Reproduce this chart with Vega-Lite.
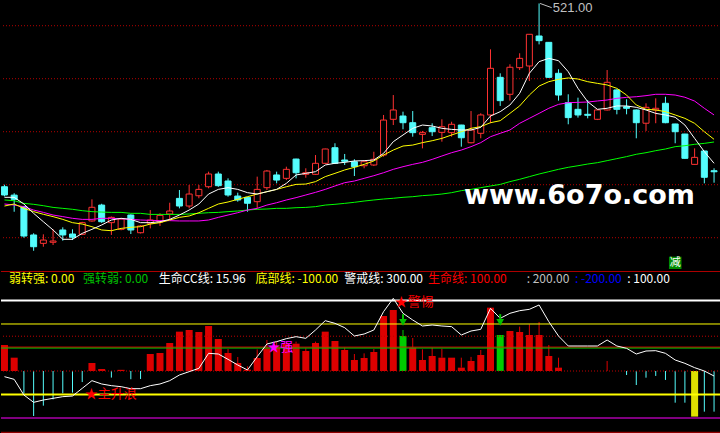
{
"$schema": "https://vega.github.io/schema/vega-lite/v6.json",
"background": "#000000",
"padding": 0,
"spacing": 0,
"bounds": "flush",
"config": {"view": {"stroke": null}, "axis": {"disable": true}, "concat": {"spacing": 0}},
"datasets": {
"k": [
{"t":0,"o":348.1,"h":350,"l":339,"c":340.3},
{"t":1,"o":340.2,"h":342,"l":324.5,"c":336.2},
{"t":2,"o":329.3,"h":330,"l":300,"c":301.6},
{"t":3,"o":302.6,"h":304.2,"l":287.7,"c":291.5},
{"t":4,"o":294.7,"h":303.2,"l":291.5,"c":297.8},
{"t":5,"o":295.7,"h":307.9,"l":293.1,"c":296.9},
{"t":6,"o":307.3,"h":309.8,"l":297.2,"c":302.6},
{"t":7,"o":303.5,"h":307.9,"l":297.8,"c":300.4},
{"t":8,"o":303.2,"h":315,"l":302.5,"c":314.2},
{"t":9,"o":315.8,"h":336.2,"l":315.1,"c":328.7},
{"t":10,"o":330.8,"h":332,"l":314,"c":315.1},
{"t":11,"o":314.2,"h":320,"l":302.6,"c":319.2},
{"t":12,"o":307.9,"h":318.5,"l":307,"c":317.6},
{"t":13,"o":321.4,"h":322,"l":303.5,"c":307.3},
{"t":14,"o":304.7,"h":312,"l":304,"c":311.1},
{"t":15,"o":313.6,"h":326.1,"l":308.8,"c":316.7},
{"t":16,"o":314.8,"h":323,"l":311.1,"c":321.1},
{"t":17,"o":322.4,"h":333,"l":316.7,"c":325.2},
{"t":18,"o":337.1,"h":345,"l":327.7,"c":329.9},
{"t":19,"o":329.9,"h":349.7,"l":327.7,"c":341.2},
{"t":20,"o":339.6,"h":349.7,"l":337.2,"c":345.6},
{"t":21,"o":348.1,"h":362.3,"l":346.6,"c":360.1},
{"t":22,"o":360.1,"h":362.3,"l":348,"c":349.1},
{"t":23,"o":353.5,"h":356,"l":338.7,"c":340.3},
{"t":24,"o":339.3,"h":342.5,"l":334,"c":335.6},
{"t":25,"o":338.1,"h":338.5,"l":324.5,"c":332.5},
{"t":26,"o":334,"h":357.6,"l":327.7,"c":345.6},
{"t":27,"o":347.2,"h":363.9,"l":345,"c":362.9},
{"t":28,"o":359.2,"h":362.3,"l":351.3,"c":354.4},
{"t":29,"o":356,"h":367,"l":354.4,"c":364.5},
{"t":30,"o":374.2,"h":374.5,"l":356,"c":361.3},
{"t":31,"o":359.8,"h":365.5,"l":356.6,"c":361.3},
{"t":32,"o":359.8,"h":378,"l":359.2,"c":370.2},
{"t":33,"o":370.2,"h":384,"l":369.5,"c":383.7},
{"t":34,"o":384.9,"h":389.1,"l":369.5,"c":370.2},
{"t":35,"o":373.3,"h":379,"l":368.6,"c":372.1},
{"t":36,"o":371.7,"h":374,"l":358.2,"c":367},
{"t":37,"o":367.9,"h":372.5,"l":365.5,"c":371.7},
{"t":38,"o":368.6,"h":381.1,"l":367.6,"c":374},
{"t":39,"o":378,"h":415.8,"l":376.4,"c":411},
{"t":40,"o":411.7,"h":434.6,"l":406.3,"c":420.5},
{"t":41,"o":414.8,"h":418.9,"l":402.3,"c":408.5},
{"t":42,"o":408.5,"h":419.5,"l":395.3,"c":399.1},
{"t":43,"o":397.5,"h":400.7,"l":384.3,"c":399.1},
{"t":44,"o":403.8,"h":407.9,"l":395.9,"c":400},
{"t":45,"o":399.4,"h":411.7,"l":390.6,"c":404.7},
{"t":46,"o":399.1,"h":409.4,"l":395.3,"c":407},
{"t":47,"o":406.3,"h":406.5,"l":385.9,"c":394.3},
{"t":48,"o":389.6,"h":419.5,"l":389,"c":401.6},
{"t":49,"o":398.5,"h":417.4,"l":393.8,"c":415.8},
{"t":50,"o":415.8,"h":477.7,"l":408,"c":459.8},
{"t":51,"o":451.3,"h":455.1,"l":424.3,"c":429.3},
{"t":52,"o":435.3,"h":463.6,"l":429.3,"c":460.8},
{"t":53,"o":460.4,"h":474,"l":458.2,"c":469.2},
{"t":54,"o":462,"h":491.9,"l":447.8,"c":491.9},
{"t":55,"o":490.3,"h":521,"l":482.4,"c":485.9},
{"t":56,"o":484.3,"h":484.5,"l":451,"c":451.3},
{"t":57,"o":455.1,"h":458.9,"l":429.3,"c":434.6},
{"t":58,"o":427.4,"h":435.3,"l":407,"c":413.3},
{"t":59,"o":421.1,"h":432.1,"l":413.3,"c":415.8},
{"t":60,"o":416.4,"h":429.9,"l":412.6,"c":415.5},
{"t":61,"o":411.7,"h":421,"l":411,"c":420.5},
{"t":62,"o":420.5,"h":458.2,"l":420,"c":446.6},
{"t":63,"o":439.4,"h":440,"l":416.4,"c":421.1},
{"t":64,"o":423.6,"h":430.6,"l":416.4,"c":422.1},
{"t":65,"o":420.5,"h":421,"l":393.8,"c":408.5},
{"t":66,"o":408,"h":426.8,"l":400.7,"c":423},
{"t":67,"o":420.5,"h":431.5,"l":408,"c":422.1},
{"t":68,"o":426.8,"h":433,"l":408,"c":408.5},
{"t":69,"o":407.3,"h":407.5,"l":389.1,"c":400},
{"t":70,"o":397.8,"h":398,"l":374.5,"c":374.9},
{"t":71,"o":369.2,"h":384.3,"l":369,"c":375.8},
{"t":72,"o":381.8,"h":382,"l":351.3,"c":357},
{"t":73,"o":363.2,"h":365.5,"l":351.9,"c":362.2}
],
"ma": [
{"t":0,"m5":338.1,"m10":329.9,"m20":331.8,"m60":335.6},
{"t":1,"m5":338.1,"m10":331.8,"m20":330.8,"m60":334.9},
{"t":2,"m5":331.8,"m10":327.7,"m20":329.3,"m60":332.4},
{"t":3,"m5":323.0,"m10":324.6,"m20":326.1,"m60":331.5},
{"t":4,"m5":315.1,"m10":322.1,"m20":323.9,"m60":330.2},
{"t":5,"m5":307.3,"m10":319.9,"m20":321.4,"m60":328.6},
{"t":6,"m5":298.5,"m10":317.3,"m20":319.9,"m60":327.7},
{"t":7,"m5":298.5,"m10":314.2,"m20":318.3,"m60":326.8},
{"t":8,"m5":304.1,"m10":312.9,"m20":317.3,"m60":325.5},
{"t":9,"m5":307.9,"m10":310.4,"m20":317.3,"m60":324.6},
{"t":10,"m5":312.0,"m10":307.3,"m20":318.3,"m60":324.2},
{"t":11,"m5":316.7,"m10":306.6,"m20":318.3,"m60":323.9},
{"t":12,"m5":318.3,"m10":308.8,"m20":317.9,"m60":323.9},
{"t":13,"m5":317.3,"m10":309.8,"m20":317.3,"m60":323.0},
{"t":14,"m5":314.2,"m10":310.4,"m20":316.7,"m60":323.0},
{"t":15,"m5":314.2,"m10":312.9,"m20":316.4,"m60":322.0},
{"t":16,"m5":315.1,"m10":314.2,"m20":316.1,"m60":322.0},
{"t":17,"m5":317.3,"m10":316.7,"m20":316.1,"m60":322.0},
{"t":18,"m5":321.4,"m10":319.2,"m20":315.8,"m60":322.0},
{"t":19,"m5":326.1,"m10":320.5,"m20":315.8,"m60":322.4},
{"t":20,"m5":331.8,"m10":323.6,"m20":315.8,"m60":323.0},
{"t":21,"m5":341.2,"m10":327.7,"m20":316.7,"m60":323.6},
{"t":22,"m5":345.6,"m10":331.8,"m20":319.2,"m60":323.9},
{"t":23,"m5":347.2,"m10":333.7,"m20":321.4,"m60":324.6},
{"t":24,"m5":345.6,"m10":336.2,"m20":323.6,"m60":325.2},
{"t":25,"m5":342.5,"m10":338.7,"m20":326.1,"m60":326.1},
{"t":26,"m5":341.2,"m10":341.2,"m20":327.7,"m60":326.8},
{"t":27,"m5":343.4,"m10":343.4,"m20":330.8,"m60":327.1},
{"t":28,"m5":345.6,"m10":345.6,"m20":333.0,"m60":327.7},
{"t":29,"m5":351.3,"m10":348.1,"m20":335.6,"m60":327.7},
{"t":30,"m5":359.2,"m10":350.3,"m20":337.8,"m60":328.3},
{"t":31,"m5":360.7,"m10":350.6,"m20":340.3,"m60":328.6},
{"t":32,"m5":362.3,"m10":352.9,"m20":342.8,"m60":329.3},
{"t":33,"m5":368.6,"m10":357.6,"m20":345.6,"m60":330.8},
{"t":34,"m5":370.2,"m10":360.7,"m20":348.8,"m60":331.5},
{"t":35,"m5":371.1,"m10":363.9,"m20":351.9,"m60":332.4},
{"t":36,"m5":372.4,"m10":366.4,"m20":353.5,"m60":333.4},
{"t":37,"m5":372.7,"m10":369.2,"m20":356.0,"m60":334.6},
{"t":38,"m5":373.3,"m10":372.4,"m20":358.5,"m60":335.6},
{"t":39,"m5":379.6,"m10":378.0,"m20":361.3,"m60":336.5},
{"t":40,"m5":390.6,"m10":382.7,"m20":364.5,"m60":337.2},
{"t":41,"m5":396.9,"m10":386.5,"m20":367.0,"m60":338.1},
{"t":42,"m5":403.2,"m10":387.4,"m20":369.2,"m60":338.7},
{"t":43,"m5":406.3,"m10":389.7,"m20":371.1,"m60":339.7},
{"t":44,"m5":405.4,"m10":391.5,"m20":373.9,"m60":340.3},
{"t":45,"m5":403.2,"m10":393.7,"m20":377.1,"m60":341.2},
{"t":46,"m5":402.2,"m10":396.9,"m20":380.2,"m60":342.5},
{"t":47,"m5":401.6,"m10":400.0,"m20":382.7,"m60":344.4},
{"t":48,"m5":401.6,"m10":403.2,"m20":385.9,"m60":345.6},
{"t":49,"m5":404.1,"m10":404.8,"m20":389.7,"m60":347.2},
{"t":50,"m5":414.8,"m10":408.5,"m20":395.3,"m60":348.8},
{"t":51,"m5":418.9,"m10":410.4,"m20":398.5,"m60":350.3},
{"t":52,"m5":425.2,"m10":417.3,"m20":401.6,"m60":352.9},
{"t":53,"m5":436.2,"m10":424.3,"m20":407.9,"m60":355.1},
{"t":54,"m5":455.1,"m10":434.6,"m20":412.6,"m60":357.6},
{"t":55,"m5":466.1,"m10":443.1,"m20":417.3,"m60":360.1},
{"t":56,"m5":469.2,"m10":447.2,"m20":422.1,"m60":362.3},
{"t":57,"m5":467.0,"m10":449.4,"m20":425.8,"m60":364.5},
{"t":58,"m5":456.6,"m10":450.7,"m20":427.4,"m60":366.4},
{"t":59,"m5":440.9,"m10":449.7,"m20":427.7,"m60":367.9},
{"t":60,"m5":428.3,"m10":447.2,"m20":428.0,"m60":369.5},
{"t":61,"m5":421.1,"m10":445.6,"m20":429.0,"m60":370.8},
{"t":62,"m5":422.1,"m10":444.1,"m20":429.9,"m60":372.7},
{"t":63,"m5":424.3,"m10":440.9,"m20":431.5,"m60":374.6},
{"t":64,"m5":424.3,"m10":434.6,"m20":432.4,"m60":376.5},
{"t":65,"m5":423.0,"m10":425.2,"m20":433.0,"m60":378.7},
{"t":66,"m5":420.5,"m10":421.1,"m20":434.0,"m60":380.2},
{"t":67,"m5":417.3,"m10":420.5,"m20":435.3,"m60":382.1},
{"t":68,"m5":415.8,"m10":418.9,"m20":435.3,"m60":383.7},
{"t":69,"m5":413.6,"m10":415.8,"m20":434.6,"m60":385.9},
{"t":70,"m5":406.3,"m10":412.6,"m20":432.5,"m60":386.8},
{"t":71,"m5":393.7,"m10":407.9,"m20":428.9,"m60":388.1},
{"t":72,"m5":381.2,"m10":400.0,"m20":422.1,"m60":389.0},
{"t":73,"m5":370.2,"m10":392.8,"m20":415.8,"m60":390.3}
],
"cc": [
{"t":0,"b":110.6,"k":"up","cci":-24.1},
{"t":1,"b":56.7,"k":"up","cci":-35.5},
{"t":2,"b":-95,"k":"down","cci":-102.1},
{"t":3,"b":-191.5,"k":"down","cci":-133.3},
{"t":4,"b":-147.5,"k":"down","cci":-123.4},
{"t":5,"b":-120.6,"k":"down","cci":-116.3},
{"t":6,"b":-95,"k":"down","cci":-109.2},
{"t":7,"b":-92,"k":"down","cci":-106.4},
{"t":8,"b":-47,"k":"down","cci":-73.8},
{"t":9,"b":34,"k":"up","cci":-41.1},
{"t":10,"b":8.5,"k":"up","cci":-55.3},
{"t":11,"b":-28,"k":"down","cci":-62.4},
{"t":12,"b":5,"k":"up","cci":-66.7},
{"t":13,"b":-35,"k":"down","cci":-75.2},
{"t":14,"b":-34,"k":"down","cci":-75.2},
{"t":15,"b":72.3,"k":"up","cci":-62.4},
{"t":16,"b":76.6,"k":"up","cci":-55.3},
{"t":17,"b":119.1,"k":"up","cci":-41.1},
{"t":18,"b":167.4,"k":"up","cci":-17},
{"t":19,"b":174.5,"k":"up","cci":-2.8},
{"t":20,"b":166,"k":"up","cci":11.3},
{"t":21,"b":191.5,"k":"up","cci":75.2},
{"t":22,"b":136.2,"k":"up","cci":72.3},
{"t":23,"b":76.6,"w":93.6,"k":"up","cci":49.6},
{"t":24,"b":34,"w":59.6,"k":"up","cci":25.5},
{"t":25,"b":6,"w":20,"k":"up","cci":4.3},
{"t":26,"b":55.3,"w":92,"k":"up","cci":61},
{"t":27,"b":96.5,"w":132,"k":"up","cci":114.9},
{"t":28,"b":100.7,"w":125,"k":"up","cci":124.8},
{"t":29,"b":115,"w":125,"k":"up","cci":137.6},
{"t":30,"b":116.3,"w":125,"k":"up","cci":146.1},
{"t":31,"b":85.1,"w":96.5,"k":"up","cci":139},
{"t":32,"b":119.1,"w":125,"k":"up","cci":174.5},
{"t":33,"b":167.4,"k":"up","cci":214.2},
{"t":34,"b":127.7,"k":"up","cci":202.8},
{"t":35,"b":89.4,"w":99.3,"k":"up","cci":184.4},
{"t":36,"b":46.8,"w":72.3,"k":"up","cci":148.9},
{"t":37,"b":55.3,"w":75,"k":"up","cci":157.4},
{"t":38,"b":80.9,"w":93.6,"k":"up","cci":174.5},
{"t":39,"b":234,"k":"up","cci":252.5},
{"t":40,"b":259.6,"k":"up","cci":309.2},
{"t":41,"b":148.9,"w":174.5,"k":"turn","cci":245.4},
{"t":42,"b":99.3,"w":140.4,"k":"up","cci":217},
{"t":43,"b":46.8,"w":92.2,"k":"up","cci":191.5},
{"t":44,"b":63.8,"w":99.3,"k":"up","cci":195.7},
{"t":45,"b":56.7,"w":95,"k":"up","cci":191.5},
{"t":46,"b":56.7,"k":"up","cci":188.7},
{"t":47,"b":14.2,"w":56.7,"k":"up","cci":153.2},
{"t":48,"b":42.6,"w":60,"k":"up","cci":170.2},
{"t":49,"b":68.1,"w":89.4,"k":"up","cci":177.3},
{"t":50,"b":269.5,"k":"up","cci":266.7},
{"t":51,"b":153.2,"k":"turn","cci":224.1},
{"t":52,"b":170.2,"k":"up","cci":245.4},
{"t":53,"b":166,"w":188.7,"k":"up","cci":256.7},
{"t":54,"b":153.2,"w":198.6,"k":"up","cci":262.4},
{"t":55,"b":153.2,"w":208.5,"k":"up","cci":280.9},
{"t":56,"b":63.8,"w":110.6,"k":"up","cci":209.9},
{"t":57,"b":14.2,"w":56.7,"k":"up","cci":148.9},
{"t":58,"b":0,"k":"flat","cci":106.4},
{"t":59,"b":0,"k":"flat","cci":106.4},
{"t":60,"b":0,"k":"flat","cci":106.4},
{"t":61,"b":0,"k":"flat","cci":106.4},
{"t":62,"b":0,"w":42.6,"k":"flat","cci":131.9},
{"t":63,"b":0,"k":"flat","cci":106.4},
{"t":64,"b":-17,"k":"down","cci":96.5},
{"t":65,"b":-59.6,"k":"down","cci":72.3},
{"t":66,"b":-28.4,"k":"down","cci":85.1},
{"t":67,"b":-21,"k":"down","cci":86.5},
{"t":68,"b":-38,"k":"down","cci":75.2},
{"t":69,"b":-134.8,"k":"down","cci":46.8},
{"t":70,"b":-134.8,"k":"down","cci":32.6},
{"t":71,"b":-194,"k":"bottom","cci":14.2},
{"t":72,"b":-173,"k":"down","cci":0},
{"t":73,"b":-173,"k":"down","cci":-21.3}
]
},
"vconcat": [
{
"width": 720,
"height": 271,
"layer": [
{"data": {"values": [{"g":300},{"g":350},{"g":400},{"g":450},{"g":500}]},
 "mark": {"type": "rule", "color": "#b40000", "strokeDash": [1,2], "strokeWidth": 1},
 "encoding": {"y": {"field": "g", "type": "quantitative", "scale": {"domain": [268.6, 524.25], "nice": false, "zero": false}}}},
{"data": {"name": "k"},
 "mark": {"type": "rule", "strokeWidth": 1, "clip": true},
 "encoding": {
  "x": {"field": "t", "type": "quantitative", "scale": {"domain": [0.158, 73.2], "nice": false, "zero": false}},
  "y": {"field": "l", "type": "quantitative", "scale": {"domain": [268.6, 524.25], "nice": false, "zero": false}},
  "y2": {"field": "h"},
  "color": {"condition": {"test": "datum.c >= datum.o", "value": "#ff3232"}, "value": "#54fcfc"}}},
{"data": {"name": "k"},
 "mark": {"type": "bar", "width": 6, "strokeWidth": 1, "clip": true},
 "encoding": {
  "x": {"field": "t", "type": "quantitative", "scale": {"domain": [0.158, 73.2], "nice": false, "zero": false}},
  "y": {"field": "o", "type": "quantitative", "scale": {"domain": [268.6, 524.25], "nice": false, "zero": false}},
  "y2": {"field": "c"},
  "fill": {"condition": {"test": "datum.c >= datum.o", "value": "#000000"}, "value": "#54fcfc"},
  "stroke": {"condition": {"test": "datum.c >= datum.o", "value": "#ff3232"}, "value": "#54fcfc"}}},
{"data": {"name": "ma"},
 "mark": {"type": "line", "color": "#00ff00", "strokeWidth": 1, "clip": true},
 "encoding": {"x": {"field": "t", "type": "quantitative"}, "y": {"field": "m60", "type": "quantitative"}}},
{"data": {"name": "ma"},
 "mark": {"type": "line", "color": "#ff00ff", "strokeWidth": 1, "clip": true},
 "encoding": {"x": {"field": "t", "type": "quantitative"}, "y": {"field": "m20", "type": "quantitative"}}},
{"data": {"name": "ma"},
 "mark": {"type": "line", "color": "#ffff00", "strokeWidth": 1, "clip": true},
 "encoding": {"x": {"field": "t", "type": "quantitative"}, "y": {"field": "m10", "type": "quantitative"}}},
{"data": {"name": "ma"},
 "mark": {"type": "line", "color": "#ffffff", "strokeWidth": 1, "clip": true},
 "encoding": {"x": {"field": "t", "type": "quantitative"}, "y": {"field": "m5", "type": "quantitative"}}},
{"data": {"values": [{}]},
 "mark": {"type": "rule", "color": "#c0c0c0", "strokeWidth": 1},
 "encoding": {"x": {"datum": 55.1, "type": "quantitative"}, "x2": {"datum": 56.3}, "y": {"datum": 521, "type": "quantitative"}, "y2": {"datum": 517}}},
{"data": {"values": [{}]},
 "mark": {"type": "text", "text": "521.00", "align": "left", "baseline": "middle", "fontSize": 13, "font": "Liberation Sans", "color": "#c0c0c0"},
 "encoding": {"x": {"datum": 56.4, "type": "quantitative"}, "y": {"datum": 516.4, "type": "quantitative"}}},
{"data": {"values": [{}]},
 "mark": {"type": "text", "text": "www.6o7o.com", "align": "center", "baseline": "middle", "fontSize": 27, "fontWeight": "bold", "font": "DejaVu Sans", "color": "#ffffff"},
 "encoding": {"x": {"datum": 59.15, "type": "quantitative"}, "y": {"datum": 339.3, "type": "quantitative"}}},
{"data": {"values": [{}]},
 "mark": {"type": "rect", "color": "#008c00"},
 "encoding": {"x": {"datum": 68.36, "type": "quantitative"}, "x2": {"datum": 69.65}, "y": {"datum": 270.5, "type": "quantitative"}, "y2": {"datum": 282.1}}},
{"data": {"values": [{}]},
 "mark": {"type": "text", "text": "减", "align": "center", "baseline": "middle", "fontSize": 11, "font": "Noto Sans CJK SC", "color": "#ffffff"},
 "encoding": {"x": {"datum": 69.0, "type": "quantitative"}, "y": {"datum": 276.3, "type": "quantitative"}}}
]
},
{
"width": 720,
"height": 162,
"layer": [
{"data": {"name": "cc"},
 "transform": [{"filter": "datum.k == 'up' || datum.k == 'turn' || datum.k == 'bottom'"}],
 "mark": {"type": "bar", "width": 7, "clip": true},
 "encoding": {
  "x": {"field": "t", "type": "quantitative", "scale": {"domain": [0.158, 73.2], "nice": false, "zero": false}},
  "y": {"field": "b", "type": "quantitative", "scale": {"domain": [-263.8, 425.5], "nice": false, "zero": false}},
  "y2": {"datum": 0},
  "color": {"field": "k", "type": "nominal", "legend": null, "scale": {"domain": ["up", "turn", "bottom", "flat"], "range": ["#dd0000", "#00cc00", "#e0e000", "#dd0000"]}}}},
{"data": {"name": "cc"},
 "transform": [{"filter": "datum.w != null"}],
 "mark": {"type": "rule", "strokeWidth": 1, "clip": true},
 "encoding": {
  "x": {"field": "t", "type": "quantitative"},
  "y": {"field": "b", "type": "quantitative"},
  "y2": {"field": "w"},
  "color": {"field": "k", "type": "nominal", "legend": null}}},
{"data": {"name": "cc"},
 "transform": [{"filter": "datum.k == 'down'"}],
 "mark": {"type": "rule", "strokeWidth": 1, "color": "#54fcfc", "clip": true},
 "encoding": {
  "x": {"field": "t", "type": "quantitative"},
  "y": {"field": "b", "type": "quantitative"},
  "y2": {"datum": 0}}},
{"data": {"values": [{}]}, "mark": {"type": "rule", "color": "#b00000", "strokeWidth": 1}, "encoding": {"y": {"datum": 423.4, "type": "quantitative"}}},
{"data": {"values": [{}]}, "mark": {"type": "rule", "color": "#ffffff", "strokeWidth": 2}, "encoding": {"y": {"datum": 300, "type": "quantitative"}}},
{"data": {"values": [{}]}, "mark": {"type": "rule", "color": "#ffff00", "strokeWidth": 1}, "encoding": {"y": {"datum": 200, "type": "quantitative"}}},
{"data": {"values": [{}]}, "mark": {"type": "rule", "color": "#c00000", "strokeWidth": 1, "strokeDash": [1,2]}, "encoding": {"y": {"datum": 148, "type": "quantitative"}}},
{"data": {"values": [{}]}, "mark": {"type": "rule", "color": "#ff0000", "strokeWidth": 1}, "encoding": {"y": {"datum": 101.5, "type": "quantitative"}}},
{"data": {"values": [{}]}, "mark": {"type": "rule", "color": "#00c000", "strokeWidth": 1}, "encoding": {"y": {"datum": 97.5, "type": "quantitative"}}},
{"data": {"values": [{}]}, "mark": {"type": "rule", "color": "#c00000", "strokeWidth": 1, "strokeDash": [1,2]}, "encoding": {"y": {"datum": 0, "type": "quantitative"}}},
{"data": {"values": [{}]}, "mark": {"type": "rule", "color": "#ffff00", "strokeWidth": 2}, "encoding": {"y": {"datum": -100, "type": "quantitative"}}},
{"data": {"values": [{}]}, "mark": {"type": "rule", "color": "#ff00ff", "strokeWidth": 1}, "encoding": {"y": {"datum": -200, "type": "quantitative"}}},
{"data": {"values": [{}]}, "mark": {"type": "rule", "color": "#b00000", "strokeWidth": 1}, "encoding": {"y": {"datum": -260.9, "type": "quantitative"}}},
{"data": {"name": "cc"},
 "mark": {"type": "line", "color": "#ffffff", "strokeWidth": 1, "clip": true},
 "encoding": {"x": {"field": "t", "type": "quantitative"}, "y": {"field": "cci", "type": "quantitative"}}},
{"data": {"values": [{"t": 41}, {"t": 51}]},
 "mark": {"type": "rule", "color": "#00c000", "strokeWidth": 2},
 "encoding": {"x": {"field": "t", "type": "quantitative"}, "y": {"datum": 242, "type": "quantitative"}, "y2": {"datum": 212}}},
{"data": {"values": [{"t": 41}, {"t": 51}]},
 "mark": {"type": "point", "shape": "triangle-down", "filled": true, "color": "#00c000", "size": 60, "opacity": 1},
 "encoding": {"x": {"field": "t", "type": "quantitative"}, "y": {"datum": 207, "type": "quantitative"}}},
{"data": {"values": [{}]},
 "mark": {"type": "text", "text": "★主升浪", "align": "left", "baseline": "middle", "fontSize": 13, "font": "Noto Sans CJK SC", "color": "#ff0000"},
 "encoding": {"x": {"datum": 8.27, "type": "quantitative"}, "y": {"datum": -99, "type": "quantitative"}}},
{"data": {"values": [{}]},
 "mark": {"type": "text", "text": "★强", "align": "left", "baseline": "middle", "fontSize": 13, "font": "Noto Sans CJK SC", "color": "#ff00ff"},
 "encoding": {"x": {"datum": 27.04, "type": "quantitative"}, "y": {"datum": 100.8, "type": "quantitative"}}},
{"data": {"values": [{}]},
 "mark": {"type": "text", "text": "★警惕", "align": "left", "baseline": "middle", "fontSize": 13, "font": "Noto Sans CJK SC", "color": "#ff0000"},
 "encoding": {"x": {"datum": 40.16, "type": "quantitative"}, "y": {"datum": 295, "type": "quantitative"}}},
{"data": {"values": [{}]}, "mark": {"type": "text", "text": "弱转强: 0.00", "align": "left", "baseline": "middle", "fontSize": 12, "font": "Noto Sans CJK SC", "color": "#ffff00"}, "encoding": {"x": {"datum": 0.463, "type": "quantitative"}, "y": {"datum": 390, "type": "quantitative"}}},
{"data": {"values": [{}]}, "mark": {"type": "text", "text": "强转弱: 0.00", "align": "left", "baseline": "middle", "fontSize": 12, "font": "Noto Sans CJK SC", "color": "#00c000"}, "encoding": {"x": {"datum": 8.07, "type": "quantitative"}, "y": {"datum": 390, "type": "quantitative"}}},
{"data": {"values": [{}]}, "mark": {"type": "text", "text": "生命CC线: 15.96", "align": "left", "baseline": "middle", "fontSize": 12, "font": "Noto Sans CJK SC", "color": "#ffffff"}, "encoding": {"x": {"datum": 15.88, "type": "quantitative"}, "y": {"datum": 390, "type": "quantitative"}}},
{"data": {"values": [{}]}, "mark": {"type": "text", "text": "底部线: -100.00", "align": "left", "baseline": "middle", "fontSize": 12, "font": "Noto Sans CJK SC", "color": "#ffff00"}, "encoding": {"x": {"datum": 25.82, "type": "quantitative"}, "y": {"datum": 390, "type": "quantitative"}}},
{"data": {"values": [{}]}, "mark": {"type": "text", "text": "警戒线: 300.00", "align": "left", "baseline": "middle", "fontSize": 12, "font": "Noto Sans CJK SC", "color": "#ffffff"}, "encoding": {"x": {"datum": 34.96, "type": "quantitative"}, "y": {"datum": 390, "type": "quantitative"}}},
{"data": {"values": [{}]}, "mark": {"type": "text", "text": "生命线: 100.00", "align": "left", "baseline": "middle", "fontSize": 12, "font": "Noto Sans CJK SC", "color": "#ff0000"}, "encoding": {"x": {"datum": 43.58, "type": "quantitative"}, "y": {"datum": 390, "type": "quantitative"}}},
{"data": {"values": [{}]}, "mark": {"type": "text", "text": ": 200.00", "align": "left", "baseline": "middle", "fontSize": 12, "font": "Noto Sans CJK SC", "color": "#c0c0c0"}, "encoding": {"x": {"datum": 53.72, "type": "quantitative"}, "y": {"datum": 390, "type": "quantitative"}}},
{"data": {"values": [{}]}, "mark": {"type": "text", "text": ": -200.00", "align": "left", "baseline": "middle", "fontSize": 12, "font": "Noto Sans CJK SC", "color": "#0000ff"}, "encoding": {"x": {"datum": 58.69, "type": "quantitative"}, "y": {"datum": 390, "type": "quantitative"}}},
{"data": {"values": [{}]}, "mark": {"type": "text", "text": ": 100.00", "align": "left", "baseline": "middle", "fontSize": 12, "font": "Noto Sans CJK SC", "color": "#ffffff"}, "encoding": {"x": {"datum": 64.07, "type": "quantitative"}, "y": {"datum": 390, "type": "quantitative"}}}
]
}
]
}
